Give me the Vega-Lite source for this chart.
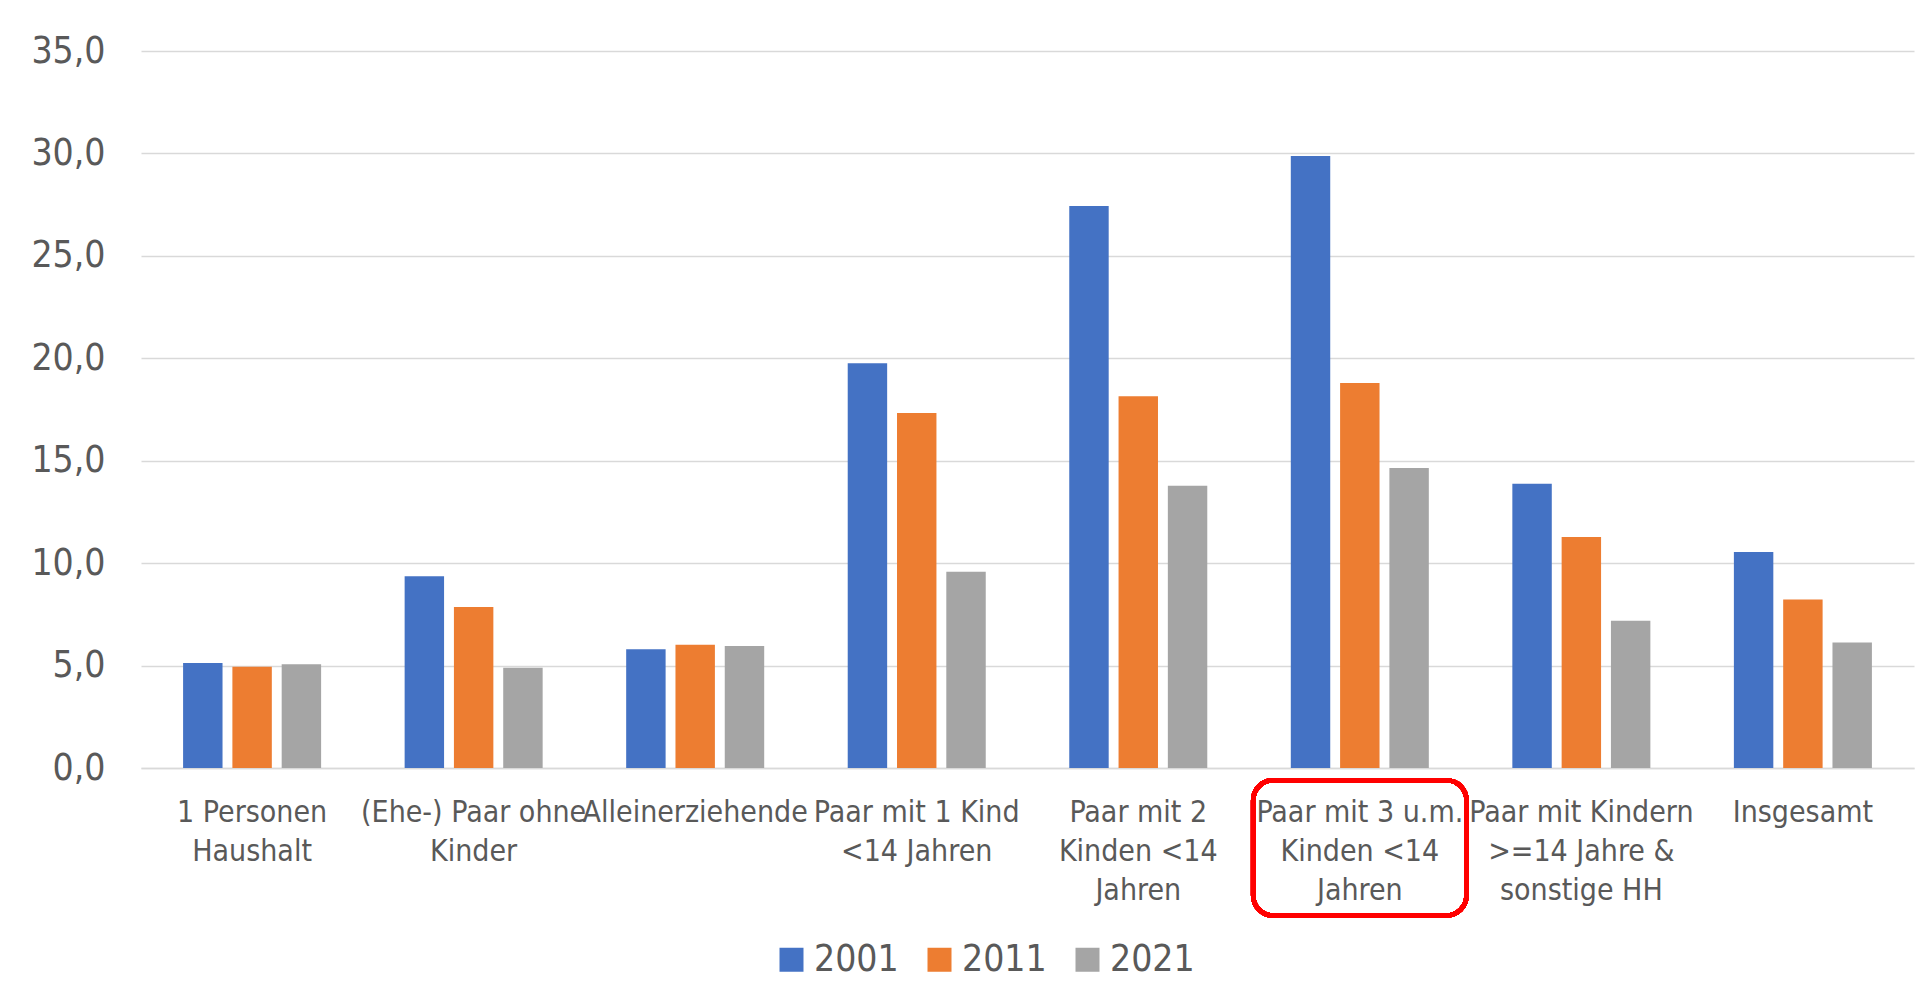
{
  "$schema": "https://vega.github.io/schema/vega-lite/v6.json",
  "autosize": "none",
  "width": 1773,
  "height": 717,
  "padding": {"left": 141, "top": 51, "right": 16, "bottom": 237},
  "background": "white",
  "config": {
    "view": {"stroke": null},
    "font": "Liberation Sans Narrow, DejaVu Sans Condensed, Roboto, sans-serif"
  },
  "data": {
    "values": [
      {"Kategorie": "1 Personen Haushalt", "Jahr": "2001", "Wert": 5.13},
      {"Kategorie": "1 Personen Haushalt", "Jahr": "2011", "Wert": 4.94},
      {"Kategorie": "1 Personen Haushalt", "Jahr": "2021", "Wert": 5.06},
      {"Kategorie": "(Ehe-) Paar ohne Kinder", "Jahr": "2001", "Wert": 9.36},
      {"Kategorie": "(Ehe-) Paar ohne Kinder", "Jahr": "2011", "Wert": 7.86},
      {"Kategorie": "(Ehe-) Paar ohne Kinder", "Jahr": "2021", "Wert": 4.89},
      {"Kategorie": "Alleinerziehende", "Jahr": "2001", "Wert": 5.8},
      {"Kategorie": "Alleinerziehende", "Jahr": "2011", "Wert": 6.02},
      {"Kategorie": "Alleinerziehende", "Jahr": "2021", "Wert": 5.96},
      {"Kategorie": "Paar mit 1 Kind <14 Jahren", "Jahr": "2001", "Wert": 19.76},
      {"Kategorie": "Paar mit 1 Kind <14 Jahren", "Jahr": "2011", "Wert": 17.33},
      {"Kategorie": "Paar mit 1 Kind <14 Jahren", "Jahr": "2021", "Wert": 9.58},
      {"Kategorie": "Paar mit 2 Kinden <14 Jahren", "Jahr": "2001", "Wert": 27.43},
      {"Kategorie": "Paar mit 2 Kinden <14 Jahren", "Jahr": "2011", "Wert": 18.15},
      {"Kategorie": "Paar mit 2 Kinden <14 Jahren", "Jahr": "2021", "Wert": 13.78},
      {"Kategorie": "Paar mit 3 u.m. Kinden <14 Jahren", "Jahr": "2001", "Wert": 29.87},
      {"Kategorie": "Paar mit 3 u.m. Kinden <14 Jahren", "Jahr": "2011", "Wert": 18.79},
      {"Kategorie": "Paar mit 3 u.m. Kinden <14 Jahren", "Jahr": "2021", "Wert": 14.65},
      {"Kategorie": "Paar mit Kindern >=14 Jahre & sonstige HH", "Jahr": "2001", "Wert": 13.87},
      {"Kategorie": "Paar mit Kindern >=14 Jahre & sonstige HH", "Jahr": "2011", "Wert": 11.28},
      {"Kategorie": "Paar mit Kindern >=14 Jahre & sonstige HH", "Jahr": "2021", "Wert": 7.19},
      {"Kategorie": "Insgesamt", "Jahr": "2001", "Wert": 10.54},
      {"Kategorie": "Insgesamt", "Jahr": "2011", "Wert": 8.23},
      {"Kategorie": "Insgesamt", "Jahr": "2021", "Wert": 6.13}
    ]
  },
  "layer": [
    {
      "mark": {"type": "bar"},
      "encoding": {
        "x": {
          "field": "Kategorie",
          "type": "nominal",
          "sort": null,
          "scale": {"paddingInner": 0.377, "paddingOuter": 0.19},
          "axis": {
            "title": null,
            "labelAngle": 0,
            "labelFontSize": 30,
            "labelColor": "#595959",
            "labelLineHeight": 39,
            "labelLimit": 400,
            "labelOverlap": false,
            "labelBound": false,
            "ticks": false,
            "domainColor": "#d9d9d9",
            "domainWidth": 1.5,
            "labelPadding": 29,
            "labelExpr": "{'1 Personen Haushalt': ['1 Personen', 'Haushalt'], '(Ehe-) Paar ohne Kinder': ['(Ehe-) Paar ohne', 'Kinder'], 'Alleinerziehende': 'Alleinerziehende', 'Paar mit 1 Kind <14 Jahren': ['Paar mit 1 Kind', '<14 Jahren'], 'Paar mit 2 Kinden <14 Jahren': ['Paar mit 2', 'Kinden <14', 'Jahren'], 'Paar mit 3 u.m. Kinden <14 Jahren': ['Paar mit 3 u.m.', 'Kinden <14', 'Jahren'], 'Paar mit Kindern >=14 Jahre & sonstige HH': ['Paar mit Kindern', '>=14 Jahre &', 'sonstige HH'], 'Insgesamt': 'Insgesamt'}[datum.label]"
          }
        },
        "xOffset": {"field": "Jahr", "type": "nominal", "scale": {"paddingInner": 0.2}},
        "y": {
          "field": "Wert",
          "type": "quantitative",
          "scale": {"domain": [0, 35], "nice": false},
          "axis": {
            "title": null,
            "values": [0, 5, 10, 15, 20, 25, 30, 35],
            "labelExpr": "replace(format(datum.value, '.1f'), '.', ',')",
            "labelFontSize": 37,
            "labelColor": "#595959",
            "labelPadding": 36,
            "ticks": false,
            "domain": false,
            "grid": true,
            "gridColor": "#d9d9d9",
            "gridWidth": 1.5
          }
        },
        "color": {
          "field": "Jahr",
          "type": "nominal",
          "scale": {"domain": ["2001", "2011", "2021"], "range": ["#4472C4", "#ED7D31", "#A5A5A5"]},
          "legend": {
            "title": null,
            "orient": "none",
            "direction": "horizontal",
            "legendX": 632,
            "legendY": 890,
            "symbolType": "square",
            "symbolSize": 576,
            "symbolStrokeWidth": 0,
            "labelFontSize": 37,
            "labelColor": "#595959",
            "labelOffset": 4,
            "columnPadding": 22
          }
        }
      }
    },
    {
      "mark": {"type": "rect", "fill": null, "stroke": "#FF0000", "strokeWidth": 4.5, "cornerRadius": 20, "clip": false, "width": {"band": 1.545}},
      "encoding": {
        "x": {"datum": "Paar mit 3 u.m. Kinden <14 Jahren", "type": "nominal"},
        "y": {"datum": -0.6, "type": "quantitative"},
        "y2": {"datum": -7.2}
      }
    }
  ]
}
